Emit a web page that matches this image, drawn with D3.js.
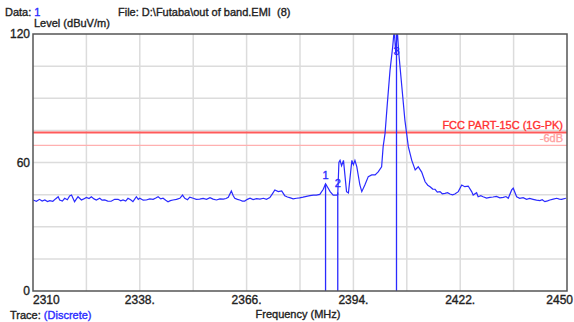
<!DOCTYPE html>
<html>
<head>
<meta charset="utf-8">
<script src="https://cdn.jsdelivr.net/npm/d3@7"></script>
<style>
  body { margin: 0; background: #fff; }
  svg { display: block; font-family: "Liberation Sans", Arial, sans-serif; }
  .lbl { stroke-width: 0.35px; paint-order: stroke; }
</style>
</head>
<body>
<svg width="574" height="322"></svg>
<script>
// frequency (MHz) and level (dBuV/m) of the measured trace
const traceFreq = [
  2310.0, 2310.9, 2311.7, 2312.4, 2313.1, 2313.8, 2314.4, 2315.2, 2315.9, 2316.6,
  2317.0, 2317.7, 2318.3, 2319.0, 2319.6, 2320.1, 2320.9, 2321.4, 2321.8, 2322.7,
  2323.3, 2324.0, 2324.7, 2325.3, 2326.0, 2326.6, 2327.5, 2328.1, 2328.8, 2329.6,
  2330.5, 2331.4, 2332.3, 2333.0, 2333.6, 2334.3, 2334.9, 2335.6, 2336.2, 2337.1,
  2337.6, 2338.0, 2338.9, 2339.7, 2340.6, 2341.5, 2342.2, 2342.8, 2343.5, 2344.1,
  2344.8, 2345.4, 2346.0, 2346.7, 2347.6, 2348.5, 2349.2, 2349.8, 2350.5, 2351.1,
  2352.0, 2352.8, 2353.7, 2354.6, 2355.5, 2356.4, 2357.2, 2358.1, 2359.0, 2359.9,
  2360.6, 2361.2, 2362.0, 2362.5, 2362.9, 2363.6, 2364.2, 2364.9, 2365.5, 2366.2,
  2366.9, 2367.7, 2368.6, 2369.5, 2370.4, 2371.2, 2372.1, 2372.8, 2373.4, 2374.3,
  2375.2, 2376.0, 2376.7, 2377.3, 2378.2, 2379.1, 2379.9, 2380.8, 2381.7, 2382.6,
  2383.5, 2384.3, 2385.2, 2386.1, 2386.7, 2387.4, 2387.9, 2388.7, 2389.6, 2389.9,
  2390.2, 2390.5, 2390.9, 2391.4, 2392.2, 2392.7, 2393.6, 2394.0, 2394.4, 2394.9,
  2395.7, 2396.2, 2397.0, 2397.9, 2398.8, 2399.7, 2400.5, 2401.4, 2401.8, 2402.3,
  2402.9, 2403.6, 2404.3, 2404.7, 2405.1, 2405.5, 2405.9, 2406.7, 2407.5, 2408.4,
  2409.3, 2410.2, 2411.0, 2411.9, 2412.8, 2413.5, 2414.1, 2414.8, 2415.4, 2416.0,
  2416.7, 2417.3, 2418.0, 2418.7, 2419.3, 2420.0, 2420.6, 2421.5, 2422.4, 2423.2,
  2424.1, 2425.0, 2425.4, 2426.3, 2426.7, 2427.4, 2428.0, 2428.9, 2429.8, 2430.6,
  2431.5, 2432.4, 2433.3, 2434.0, 2434.6, 2435.5, 2435.9, 2436.8, 2437.6, 2438.5,
  2439.4, 2440.2, 2441.1, 2442.0, 2442.9, 2443.5, 2444.2, 2444.9, 2445.5, 2446.4,
  2447.3, 2448.0, 2448.6, 2449.7
];
const traceLevel = [
  42.5, 41.9, 42.8, 42.0, 42.5, 41.8, 42.2, 41.9, 43.0, 44.0,
  42.5, 42.0, 43.3, 42.6, 44.4, 44.8, 41.7, 43.0, 44.0, 42.5,
  43.0, 43.7, 43.2, 44.0, 43.0, 42.5, 43.3, 42.4, 42.5, 42.0,
  41.9, 42.8, 42.8, 42.1, 42.5, 42.0, 43.3, 42.6, 41.7, 44.0,
  42.8, 43.3, 42.4, 42.5, 43.0, 42.8, 43.4, 44.0, 43.0, 43.3,
  42.4, 41.7, 42.2, 42.5, 42.8, 43.3, 44.8, 43.3, 42.6, 43.8,
  43.3, 42.8, 42.9, 43.2, 42.8, 43.6, 42.9, 42.5, 43.0, 42.9,
  43.2, 43.8, 46.7, 44.5, 43.3, 42.8, 42.5, 42.0, 42.0, 42.8,
  43.3, 42.7, 43.1, 42.9, 43.3, 42.8, 43.6, 45.5, 47.2, 46.4,
  46.7, 44.5, 43.9, 43.6, 43.0, 43.3, 43.5, 43.8, 44.2, 44.5,
  44.8, 44.8, 45.1, 47.5, 50.0, 48.0, 46.4, 44.8, 44.8, 45.0,
  60.0, 61.0, 58.5, 61.0, 46.4, 45.8, 61.0, 59.0, 61.0, 58.0,
  49.5, 46.4, 49.5, 53.4, 54.2, 54.2, 55.6, 58.0, 67.4, 73.6,
  87.6, 103.0, 114.0, 122.0, 111.0, 122.0, 111.0, 95.4, 79.8, 67.4,
  61.0, 56.5, 58.0, 55.5, 51.0, 49.4, 48.7, 47.6, 47.5, 46.2,
  46.4, 45.4, 45.6, 45.9, 45.3, 44.9, 45.3, 46.4, 49.5, 48.7,
  49.0, 46.4, 44.8, 45.9, 44.0, 44.5, 44.0, 43.4, 43.7, 43.9,
  44.2, 43.5, 43.7, 44.1, 43.3, 47.2, 48.0, 44.0, 43.3, 43.6,
  42.8, 43.2, 42.8, 42.4, 42.2, 42.6, 41.7, 42.1, 42.5, 42.9,
  43.3, 42.9, 42.8, 43.3
];

const markerIds = ['1', '2', '3'];
const markerFreq = [2386.7, 2389.9, 2405.3];
const markerLevel = [50.0, 46.0, 120.0];

const limitLevel = 74;
const limitName = 'FCC PART-15C (1G-PK)';
const marginLevel = 68;
const marginName = '-6dB';

const xTicks = [2310, 2338, 2366, 2394, 2422, 2450];
const xGrid = [2324, 2338, 2352, 2366, 2380, 2394, 2408, 2422, 2436];
const yTicks = [0, 60, 120];
const yGrid = [15, 30, 45, 60, 75, 90, 105];

const margin = { top: 34, right: 7, bottom: 31, left: 33 };
const W = 574, H = 322;
const w = W - margin.left - margin.right;
const h = H - margin.top - margin.bottom;

const svg = d3.select('svg');
const x = d3.scaleLinear().domain([2310, 2450]).range([margin.left, margin.left + w]);
const y = d3.scaleLinear().domain([0, 120]).range([margin.top + h, margin.top]);

svg.append('defs').append('clipPath').attr('id', 'plot')
  .append('rect').attr('x', margin.left).attr('y', margin.top).attr('width', w).attr('height', h);

// grid
svg.append('g').selectAll('line').data(xGrid).join('line')
  .attr('x1', d => x(d)).attr('x2', d => x(d))
  .attr('y1', margin.top).attr('y2', margin.top + h)
  .attr('stroke', '#dcdcdc').attr('stroke-width', 1.5);
svg.append('g').selectAll('line').data(yGrid).join('line')
  .attr('x1', margin.left).attr('x2', margin.left + w)
  .attr('y1', d => y(d)).attr('y2', d => y(d))
  .attr('stroke', '#dcdcdc').attr('stroke-width', 1.5);

// limit lines
svg.append('line')
  .attr('x1', margin.left).attr('x2', margin.left + w)
  .attr('y1', y(limitLevel)).attr('y2', y(limitLevel))
  .attr('stroke', '#ff5a5a').attr('stroke-width', 1.8);
svg.append('line')
  .attr('x1', margin.left).attr('x2', margin.left + w)
  .attr('y1', y(marginLevel)).attr('y2', y(marginLevel))
  .attr('stroke', '#ffb0b0').attr('stroke-width', 1.4);
svg.append('text').attr('class', 'lbl')
  .attr('x', margin.left + w - 4).attr('y', y(limitLevel) - 4)
  .attr('text-anchor', 'end').attr('font-size', 11)
  .attr('fill', '#ff3030').attr('stroke', '#ff3030')
  .text(limitName);
svg.append('text').attr('class', 'lbl')
  .attr('x', margin.left + w - 4).attr('y', y(marginLevel) - 3)
  .attr('text-anchor', 'end').attr('font-size', 11)
  .attr('fill', '#ffa0a0').attr('stroke', '#ffa0a0')
  .text(marginName);

// trace
const trace = traceFreq.map((f, i) => [f, traceLevel[i]]);
const lineFn = d3.line().x(p => x(p[0])).y(p => y(p[1]));
const plot = svg.append('g').attr('clip-path', 'url(#plot)');
plot.append('path')
  .attr('d', lineFn(trace))
  .attr('fill', 'none').attr('stroke', '#2a2aff').attr('stroke-width', 1.2);

// markers
const markers = markerIds.map((id, i) => ({ id, f: markerFreq[i], v: markerLevel[i] }));
plot.selectAll('.marker').data(markers).join('line')
  .attr('class', 'marker')
  .attr('x1', m => x(m.f)).attr('x2', m => x(m.f))
  .attr('y1', m => y(m.v)).attr('y2', y(0))
  .attr('stroke', '#2a2aff').attr('stroke-width', 1.3);
svg.selectAll('.marker-label').data(markers).join('text')
  .attr('class', 'marker-label lbl')
  .attr('x', m => x(m.f)).attr('y', m => m.v >= 120 ? y(m.v) + 21 : y(m.v) - 5)
  .attr('text-anchor', 'middle').attr('font-size', 11)
  .attr('fill', '#2a2aff').attr('stroke', '#2a2aff')
  .text(m => m.id);

// frame
svg.append('rect')
  .attr('x', margin.left).attr('y', margin.top).attr('width', w).attr('height', h)
  .attr('fill', 'none').attr('stroke', '#555').attr('stroke-width', 1.5);

// tick labels
svg.append('g').selectAll('text').data(xTicks).join('text')
  .attr('class', 'lbl')
  .attr('x', (d, i) => i === 0 ? x(d) : i === xTicks.length - 1 ? W - 1 : x(d))
  .attr('y', margin.top + h + 13)
  .attr('text-anchor', (d, i) => i === 0 ? 'start' : i === xTicks.length - 1 ? 'end' : 'middle')
  .attr('font-size', 12).attr('fill', '#222').attr('stroke', '#222')
  .text((d, i) => i === 0 || i === xTicks.length - 1 ? d : d + '.');
svg.append('g').selectAll('text').data(yTicks).join('text')
  .attr('class', 'lbl')
  .attr('x', margin.left - 3).attr('y', d => y(d) + 4)
  .attr('text-anchor', 'end').attr('font-size', 12).attr('fill', '#222').attr('stroke', '#222')
  .text(d => d);

// titles
const t1 = svg.append('text').attr('class', 'lbl').attr('x', 5).attr('y', 16)
  .attr('font-size', 11).attr('fill', '#222').attr('stroke', '#222');
t1.append('tspan').text('Data: ');
t1.append('tspan').attr('fill', '#2a2aff').attr('stroke', '#2a2aff').text('1');
svg.append('text').attr('class', 'lbl').attr('x', 118).attr('y', 16)
  .attr('font-size', 11).attr('fill', '#222').attr('stroke', '#222')
  .attr('xml:space', 'preserve')
  .text('File: D:\\Futaba\\out of band.EMI  (8)');
svg.append('text').attr('class', 'lbl').attr('x', 34).attr('y', 27)
  .attr('font-size', 11).attr('fill', '#222').attr('stroke', '#222')
  .text('Level (dBuV/m)');
svg.append('text').attr('class', 'lbl').attr('x', 298).attr('y', 318).attr('text-anchor', 'middle')
  .attr('font-size', 11).attr('fill', '#222').attr('stroke', '#222')
  .text('Frequency (MHz)');
const t2 = svg.append('text').attr('class', 'lbl').attr('x', 10).attr('y', 319)
  .attr('font-size', 11).attr('fill', '#222').attr('stroke', '#222');
t2.append('tspan').text('Trace: ');
t2.append('tspan').attr('fill', '#2a2aff').attr('stroke', '#2a2aff').text('(Discrete)');
</script>
</body>
</html>
